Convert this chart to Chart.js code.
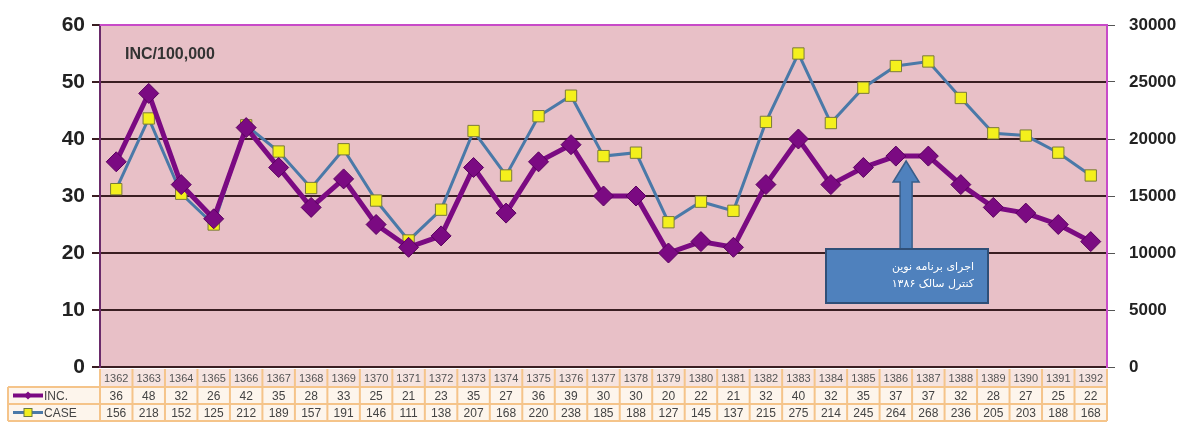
<!DOCTYPE html>
<html><head><meta charset="utf-8">
<script src="https://cdn.jsdelivr.net/npm/chart.js@4/dist/chart.umd.min.js"></script>
<style>html,body{margin:0;padding:0;background:#fff;}canvas{display:block;}</style>
</head><body>
<canvas id="c" width="1197" height="426" style="width:1197px;height:426px"></canvas>
<script>
const years = ['1362','1363','1364','1365','1366','1367','1368','1369','1370','1371','1372','1373','1374','1375','1376','1377','1378','1379','1380','1381','1382','1383','1384','1385','1386','1387','1388','1389','1390','1391','1392'];
const incValues = [36,48,32,26,42,35,28,33,25,21,23,35,27,36,39,30,30,20,22,21,32,40,32,35,37,37,32,28,27,25,22];
// CASE in hundreds (as printed in the data table)
const caseValues = [156,218,152,125,212,189,157,191,146,111,138,207,168,220,238,185,188,127,145,137,215,275,214,245,264,268,236,205,203,188,168];
const leftTicks = [0,10,20,30,40,50,60];
const rightTicks = [0,5000,10000,15000,20000,25000,30000];
const titleText = 'INC/100,000';
const noteLines = ['اجرای برنامه نوین','کنترل سالک ۱۳۸۶'];

const INC_COLOR = '#7b0a82';
const CASE_COLOR = '#4a79a8';

const bgPlugin = {
  id: 'bg',
  beforeDraw(chart) {
    const {ctx, chartArea: a} = chart;
    ctx.save();
    ctx.fillStyle = '#fff';
    ctx.fillRect(0,0,chart.width,chart.height);
    ctx.fillStyle = '#e8c0c7';
    ctx.fillRect(a.left, a.top, a.right - a.left, a.bottom - a.top);
    ctx.restore();
  },
  afterDraw(chart) {
    const {ctx, chartArea: a} = chart;
    ctx.save();
    ctx.strokeStyle = '#c84ac8';
    ctx.lineWidth = 2;
    ctx.beginPath(); ctx.moveTo(a.left, a.top); ctx.lineTo(a.right, a.top); ctx.stroke();
    ctx.fillStyle = '#333';
    ctx.font = 'bold 16px "Liberation Sans", Arial, sans-serif';
    ctx.textBaseline = 'middle';
    ctx.fillText(titleText, 125, 55);
    ctx.restore();
  }
};

const notePlugin = {
  id: 'note',
  afterDatasetsDraw(chart) {
    const ctx = chart.ctx;
    const xs = chart.scales.x;
    const cx = (xs.getPixelForValue(years.indexOf('1386')) + xs.getPixelForValue(years.indexOf('1387'))) / 2 - 6;
    ctx.save();
    ctx.fillStyle = '#4f81bd';
    ctx.strokeStyle = '#385d8a';
    ctx.lineWidth = 1.5;
    ctx.beginPath();
    ctx.moveTo(cx - 6, 249);
    ctx.lineTo(cx - 6, 182);
    ctx.lineTo(cx - 13, 182);
    ctx.lineTo(cx, 161);
    ctx.lineTo(cx + 13, 182);
    ctx.lineTo(cx + 6, 182);
    ctx.lineTo(cx + 6, 249);
    ctx.closePath();
    ctx.fill(); ctx.stroke();
    ctx.fillStyle = '#4f81bd';
    ctx.strokeStyle = '#2f4f78';
    ctx.lineWidth = 2;
    ctx.fillRect(826, 249, 162, 54);
    ctx.strokeRect(826, 249, 162, 54);
    ctx.fillStyle = '#fff';
    ctx.font = '11px "DejaVu Sans", sans-serif';
    ctx.direction = 'rtl';
    ctx.textAlign = 'right';
    ctx.textBaseline = 'middle';
    ctx.fillText(noteLines[0], 974, 267);
    ctx.fillText(noteLines[1], 974, 284);
    ctx.restore();
  }
};

const tablePlugin = {
  id: 'table',
  afterDraw(chart) {
    const ctx = chart.ctx;
    const xs = chart.scales.x;
    const a = chart.chartArea;
    const step = (a.right - a.left) / years.length;
    const rows = [369, 387, 404, 421];
    ctx.save();
    ctx.fillStyle = '#f6e4e0';
    ctx.fillRect(a.left, rows[0], a.right - a.left, rows[1] - rows[0]);
    ctx.fillStyle = '#fdf5ec';
    ctx.fillRect(8, rows[1], a.right - 8, rows[3] - rows[1]);
    ctx.strokeStyle = '#f5c48a';
    ctx.lineWidth = 2;
    ctx.beginPath();
    for (let r = 1; r < rows.length; r++) { ctx.moveTo(8, rows[r]); ctx.lineTo(a.right, rows[r]); }
    for (let i = 0; i <= years.length; i++) {
      const x = a.left + i * step;
      ctx.moveTo(x, rows[0]); ctx.lineTo(x, rows[3]);
    }
    ctx.moveTo(8, rows[1]); ctx.lineTo(8, rows[3]);
    ctx.stroke();
    ctx.textAlign = 'center';
    ctx.textBaseline = 'middle';
    for (let i = 0; i < years.length; i++) {
      const x = xs.getPixelForValue(i);
      ctx.fillStyle = '#555';
      ctx.font = '11px "Liberation Sans", Arial, sans-serif';
      ctx.fillText(years[i], x, (rows[0] + rows[1]) / 2 + 1);
      ctx.fillStyle = '#444';
      ctx.font = '12px "Liberation Sans", Arial, sans-serif';
      ctx.fillText(String(incValues[i]), x, (rows[1] + rows[2]) / 2 + 1);
      ctx.fillText(String(caseValues[i]), x, (rows[2] + rows[3]) / 2 + 1);
    }
    let y = (rows[1] + rows[2]) / 2;
    ctx.strokeStyle = INC_COLOR; ctx.lineWidth = 4;
    ctx.beginPath(); ctx.moveTo(13, y); ctx.lineTo(43, y); ctx.stroke();
    ctx.fillStyle = INC_COLOR;
    ctx.beginPath(); ctx.moveTo(28, y - 4); ctx.lineTo(32, y); ctx.lineTo(28, y + 4); ctx.lineTo(24, y); ctx.closePath(); ctx.fill();
    y = (rows[2] + rows[3]) / 2;
    ctx.strokeStyle = CASE_COLOR; ctx.lineWidth = 3;
    ctx.beginPath(); ctx.moveTo(13, y); ctx.lineTo(43, y); ctx.stroke();
    ctx.fillStyle = '#f2ee1e'; ctx.strokeStyle = '#6a7a40'; ctx.lineWidth = 1;
    ctx.fillRect(24, y - 4, 8, 8); ctx.strokeRect(24, y - 4, 8, 8);
    ctx.fillStyle = '#444';
    ctx.textAlign = 'left';
    ctx.font = '12px "Liberation Sans", Arial, sans-serif';
    ctx.fillText('INC.', 44, (rows[1] + rows[2]) / 2 + 1);
    ctx.fillText('CASE', 44, (rows[2] + rows[3]) / 2 + 1);
    ctx.restore();
  }
};

new Chart(document.getElementById('c'), {
  type: 'line',
  data: {
    labels: years,
    datasets: [
      {
        label: 'INC.', data: incValues, yAxisID: 'y', order: 0,
        borderColor: INC_COLOR, borderWidth: 5, tension: 0,
        pointStyle: 'rectRot', pointRadius: 10, pointBackgroundColor: INC_COLOR,
        pointBorderColor: '#5a0060', pointBorderWidth: 1
      },
      {
        label: 'CASE', data: caseValues, yAxisID: 'y2', order: 1,
        borderColor: CASE_COLOR, borderWidth: 3, tension: 0,
        pointStyle: 'rect', pointRadius: 8, pointBackgroundColor: '#f4f01c',
        pointBorderColor: '#7a7a3a', pointBorderWidth: 1
      }
    ]
  },
  options: {
    responsive: false,
    animation: false,
    layout: { padding: { top: 25, left: 0, right: 0, bottom: 0 } },
    plugins: { legend: { display: false }, tooltip: { enabled: false } },
    scales: {
      x: {
        type: 'category', offset: true,
        grid: { display: false }, border: { display: false },
        ticks: { display: false },
        afterFit(s) { s.height = 59; }
      },
      y: {
        position: 'left', min: 0, max: 60,
        afterBuildTicks(s) { s.ticks = leftTicks.map(v => ({ value: v })); },
        grid: { color: '#3a1e22', lineWidth: 2, tickLength: 8, drawTicks: true },
        border: { color: '#6a2a6a', width: 2 },
        ticks: { color: '#222', font: { family: '"Liberation Sans", Arial, sans-serif', size: 21, weight: 'bold' }, padding: 7 },
        afterFit(s) { s.width = 100; }
      },
      y2: {
        position: 'right', min: 0, max: 300,
        afterBuildTicks(s) { s.ticks = rightTicks.map(v => ({ value: v / 100 })); },
        grid: { drawOnChartArea: false, color: '#555', tickLength: 8 },
        border: { color: '#c84ac8', width: 2 },
        ticks: { color: '#222', font: { family: '"Liberation Sans", Arial, sans-serif', size: 17, weight: 'bold' }, padding: 14,
          callback: (v) => String(Math.round(v * 100)) },
        afterFit(s) { s.width = 90; }
      }
    }
  },
  plugins: [bgPlugin, notePlugin, tablePlugin]
});
</script>
</body></html>
